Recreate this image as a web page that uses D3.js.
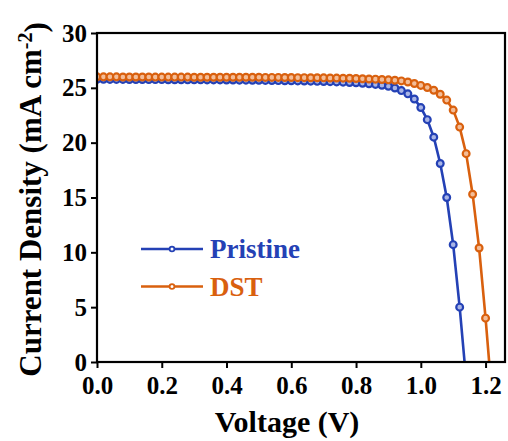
<!DOCTYPE html>
<html>
<head>
<meta charset="utf-8">
<script src="https://cdn.jsdelivr.net/npm/d3@7"></script>
<style>
  body { margin: 0; background: #fff; }
</style>
</head>
<body>
<div id="graphic"></div>
<script>
// voltage steps (V)
const voltage = [0.00, 0.02, 0.04, 0.06, 0.08, 0.10, 0.12, 0.14, 0.16, 0.18,
  0.20, 0.22, 0.24, 0.26, 0.28, 0.30, 0.32, 0.34, 0.36, 0.38,
  0.40, 0.42, 0.44, 0.46, 0.48, 0.50, 0.52, 0.54, 0.56, 0.58,
  0.60, 0.62, 0.64, 0.66, 0.68, 0.70, 0.72, 0.74, 0.76, 0.78,
  0.80, 0.82, 0.84, 0.86, 0.88, 0.90, 0.92, 0.94, 0.96, 0.98,
  1.00, 1.02, 1.04, 1.06, 1.08, 1.10, 1.12, 1.14, 1.16, 1.18,
  1.20, 1.22];

// current density (mA cm-2)
const pristine = [25.78, 25.78, 25.77, 25.77, 25.77, 25.76, 25.76, 25.76, 25.75, 25.75,
  25.75, 25.74, 25.74, 25.74, 25.73, 25.73, 25.73, 25.72, 25.72, 25.72,
  25.71, 25.71, 25.70, 25.70, 25.69, 25.69, 25.68, 25.67, 25.66, 25.65,
  25.64, 25.63, 25.62, 25.61, 25.59, 25.58, 25.56, 25.54, 25.52, 25.49,
  25.46, 25.42, 25.37, 25.31, 25.24, 25.14, 24.98, 24.75, 24.45, 23.98,
  23.20, 22.10, 20.50, 18.10, 15.00, 10.70, 5.00, -1.60];

const dst = [26.00, 26.00, 26.00, 26.00, 25.99, 25.99, 25.99, 25.99, 25.99, 25.98,
  25.98, 25.98, 25.98, 25.98, 25.98, 25.97, 25.97, 25.97, 25.97, 25.97,
  25.97, 25.96, 25.96, 25.96, 25.96, 25.96, 25.95, 25.95, 25.95, 25.94,
  25.94, 25.93, 25.93, 25.92, 25.92, 25.91, 25.90, 25.89, 25.88, 25.87,
  25.85, 25.83, 25.81, 25.79, 25.76, 25.73, 25.69, 25.63, 25.53, 25.40,
  25.22, 25.03, 24.78, 24.42, 23.88, 22.97, 21.42, 19.00, 15.30, 10.40,
  4.00, -3.20];

const seriesNames = ["Pristine", "DST"];
const seriesColours = ["#2441b5", "#d9600e"];
const seriesFills = ["#a9b5e6", "#f3bd98"];

const xTicks = [0.0, 0.2, 0.4, 0.6, 0.8, 1.0, 1.2];
const yTicks = [0, 5, 10, 15, 20, 25, 30];

const font = '"Liberation Serif", "Times New Roman", serif';

const width = 508, height = 441;
const margin = { top: 33, right: 3, bottom: 79, left: 97 };
const chartWidth = width - margin.left - margin.right;
const chartHeight = height - margin.top - margin.bottom;

const x = d3.scaleLinear().domain([0, 1.26]).range([0, chartWidth]);
const y = d3.scaleLinear().domain([0, 30]).range([chartHeight, 0]);

const svg = d3.select('#graphic').append('svg')
  .attr('width', width).attr('height', height)
  .append('g')
  .attr('transform', `translate(${margin.left},${margin.top})`);

svg.append('clipPath').attr('id', 'plot-clip')
  .append('rect').attr('width', chartWidth).attr('height', chartHeight);

// axes
const xAxis = svg.append('g')
  .attr('transform', `translate(0,${chartHeight})`)
  .call(d3.axisBottom(x).tickValues(xTicks).tickSize(6).tickPadding(8).tickFormat(d3.format('.1f')));
const yAxis = svg.append('g')
  .call(d3.axisLeft(y).tickValues(yTicks).tickSize(6).tickPadding(4).tickFormat(d3.format('d')));

[xAxis, yAxis].forEach(a => {
  a.attr('font-family', null).attr('font-size', null);
  a.select('.domain').remove();
  a.selectAll('line').attr('stroke', '#000').attr('stroke-width', 2);
  a.selectAll('text').attr('fill', '#000')
    .style('font-family', font).style('font-weight', 'bold').style('font-size', '25px');
});
yAxis.selectAll('text').attr('dy', '0.32em');

// data lines
const table = [pristine, dst].map((vals, i) => ({
  name: seriesNames[i],
  colour: seriesColours[i],
  fill: seriesFills[i],
  points: vals.map((v, j) => ({ v: voltage[j], j: v }))
}));

const line = d3.line().x(d => x(d.v)).y(d => y(d.j));

const plot = svg.append('g').attr('clip-path', 'url(#plot-clip)');

table.forEach(s => {
  plot.append('path')
    .datum(s.points)
    .attr('fill', 'none')
    .attr('stroke', s.colour)
    .attr('stroke-width', 2.6)
    .attr('d', line);
  plot.selectAll(null)
    .data(s.points)
    .join('circle')
    .attr('cx', d => x(d.v))
    .attr('cy', d => y(d.j))
    .attr('r', 3.4)
    .attr('fill', s.fill)
    .attr('stroke', s.colour)
    .attr('stroke-width', 2.2);
});

// frame
svg.append('rect')
  .attr('width', chartWidth).attr('height', chartHeight)
  .attr('fill', 'none').attr('stroke', '#000').attr('stroke-width', 2.2);

// legend
const legend = svg.append('g').attr('transform', 'translate(44,216)');
table.forEach((s, i) => {
  const g = legend.append('g').attr('transform', `translate(0,${i * 37.5})`);
  g.append('line').attr('x1', 0).attr('x2', 62)
    .attr('stroke', s.colour).attr('stroke-width', 2.6);
  g.append('circle').attr('cx', 31).attr('r', 2.4)
    .attr('fill', '#fff').attr('stroke', s.colour).attr('stroke-width', 1.8);
  g.append('text').attr('x', 69).attr('dy', '0.35em')
    .attr('fill', s.colour)
    .style('font-family', font).style('font-weight', 'bold').style('font-size', '27px')
    .text(s.name);
});

// axis labels
svg.append('text')
  .attr('x', chartWidth / 2 - 14).attr('y', chartHeight + 70)
  .attr('text-anchor', 'middle')
  .style('font-family', font).style('font-weight', 'bold').style('font-size', '30px')
  .text('Voltage (V)');

const yl = svg.append('text')
  .attr('transform', `translate(${-margin.left + 41},${chartHeight / 2 + 2}) rotate(-90)`)
  .attr('text-anchor', 'middle')
  .style('font-family', font).style('font-weight', 'bold').style('font-size', '31px');
yl.append('tspan').text('Current Density (mA cm');
yl.append('tspan').attr('dy', '-0.45em').style('font-size', '20px').text('-2');
yl.append('tspan').attr('dy', '0.45em').text(')');
</script>
</body>
</html>
